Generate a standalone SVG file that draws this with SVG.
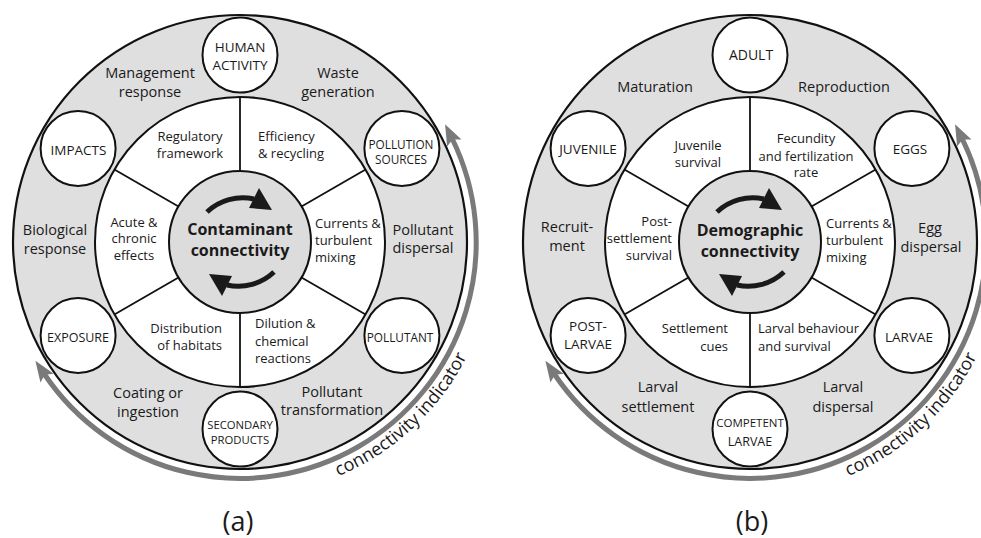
<svg xmlns="http://www.w3.org/2000/svg" width="981" height="538" viewBox="0 0 981 538">
<defs>
<style>
text{font-family:"Open Sans","Liberation Sans",sans-serif;fill:#1a1a1a}
.ring{font-size:14.5px;text-anchor:middle}
.sec{font-size:13px}
.mid{text-anchor:middle}
.end{text-anchor:end}
.cap{text-anchor:middle}
.ctr{font-size:16px;font-weight:bold;text-anchor:middle}
.lab{font-size:27px;text-anchor:middle}
.curv{font-size:18px}
.outer{fill:#dfdfdf;stroke:#111;stroke-width:2.2}
.middle{fill:#fff;stroke:#111;stroke-width:2}
.inner{fill:#dcdcdc;stroke:#111;stroke-width:2}
.node{fill:#fff;stroke:#111;stroke-width:2}
.spoke{stroke:#111;stroke-width:1.8;fill:none}
.garc{fill:none;stroke:#7a7a7a;stroke-width:5;marker-start:url(#gh);marker-end:url(#gh)}
.barc{fill:none;stroke:#1a1a1a;stroke-width:5}
.bhead{fill:#1a1a1a}
</style>
<marker id="gh" viewBox="-6 -10 24 20" markerWidth="24" markerHeight="20" refX="0" refY="0" orient="auto-start-reverse" markerUnits="userSpaceOnUse">
<path d="M16,0 L-5,-8 L-1,0 L-5,8 Z" fill="#7a7a7a"/>
</marker>
<path id="cpa" d="M318.5,483.6 A254,254 0 0 0 475.5,337.1"/>
<path id="cpb" d="M828.5,483.6 A254,254 0 0 0 985.5,337.1"/>
</defs>

<!-- ===== Diagram (a) ===== -->
<g id="diagram-a">
<g id="a-base">
<circle class="outer" cx="240" cy="242" r="227"/>
<circle class="middle" cx="240" cy="242" r="145"/>
</g>
<g id="a-connectors">
<line class="spoke" x1="240" y1="171" x2="240" y2="97"/>
<line class="spoke" x1="301.5" y1="206.5" x2="365.6" y2="169.5"/>
<line class="spoke" x1="301.5" y1="277.5" x2="365.6" y2="314.5"/>
<line class="spoke" x1="240" y1="313" x2="240" y2="387"/>
<line class="spoke" x1="178.5" y1="277.5" x2="114.4" y2="314.5"/>
<line class="spoke" x1="178.5" y1="206.5" x2="114.4" y2="169.5"/>
<path class="garc" d="M44.3,374 A236,236 0 0 0 452.1,138.5"/>
</g>
<g id="a-center">
<circle class="inner" cx="240" cy="242" r="71"/>
<path class="barc" d="M207,212 A52,52 0 0 1 254,199"/>
<polygon class="bhead" points="259,188 272,210 249,208"/>
<g transform="rotate(180 240.5 242)">
<path class="barc" d="M207,212 A52,52 0 0 1 254,199"/>
<polygon class="bhead" points="259,188 272,210 249,208"/>
</g>
<text class="ctr" x="240" y="235">Contaminant</text>
<text class="ctr" x="240" y="256">connectivity</text>
</g>
<g id="a-human-activity"><circle class="node" cx="240" cy="55" r="37.5"/><text class="cap" font-size="13.5" x="240" y="52">HUMAN</text><text class="cap" font-size="13.5" x="240" y="70">ACTIVITY</text></g>
<g id="a-pollution-sources"><circle class="node" cx="401.9" cy="148.5" r="37.5"/><text class="cap" font-size="11.8" x="401" y="149">POLLUTION</text><text class="cap" font-size="11.8" x="401" y="164">SOURCES</text></g>
<g id="a-pollutant"><circle class="node" cx="401.9" cy="335.5" r="37.5"/><text class="cap" font-size="11.8" x="400" y="342">POLLUTANT</text></g>
<g id="a-secondary-products"><circle class="node" cx="240" cy="429" r="37.5"/><text class="cap" font-size="11.3" x="240" y="429">SECONDARY</text><text class="cap" font-size="11.3" x="240" y="444">PRODUCTS</text></g>
<g id="a-exposure"><circle class="node" cx="78.1" cy="335.5" r="37.5"/><text class="cap" font-size="12.5" x="78" y="342">EXPOSURE</text></g>
<g id="a-impacts"><circle class="node" cx="78.1" cy="148.5" r="37.5"/><text class="cap" font-size="13.5" x="78.5" y="155">IMPACTS</text></g>

<g id="a-ring-labels">
<text class="ring" x="150" y="78">Management</text><text class="ring" x="150" y="97">response</text>
<text class="ring" x="338" y="78">Waste</text><text class="ring" x="338" y="97">generation</text>
<text class="ring" x="423" y="235">Pollutant</text><text class="ring" x="423" y="253">dispersal</text>
<text class="ring" x="332" y="397">Pollutant</text><text class="ring" x="332" y="415">transformation</text>
<text class="ring" x="148" y="398">Coating or</text><text class="ring" x="148" y="417">ingestion</text>
<text class="ring" x="55" y="235">Biological</text><text class="ring" x="55" y="254">response</text>
</g>
<g id="a-sector-labels">
<text class="sec mid" x="190" y="141">Regulatory</text><text class="sec mid" x="190" y="158">framework</text>
<text class="sec" x="258" y="141">Efficiency</text><text class="sec" x="258" y="158">&amp; recycling</text>
<text class="sec" x="315" y="228">Currents &amp;</text><text class="sec" x="315" y="245">turbulent</text><text class="sec" x="315" y="262">mixing</text>
<text class="sec" x="255" y="328">Dilution &amp;</text><text class="sec" x="255" y="346">chemical</text><text class="sec" x="255" y="363">reactions</text>
<text class="sec end" x="222" y="333">Distribution</text><text class="sec end" x="222" y="350">of habitats</text>
<text class="sec mid" x="134" y="227">Acute &amp;</text><text class="sec mid" x="134" y="243">chronic</text><text class="sec mid" x="134" y="260">effects</text>
</g>
<text class="curv"><textPath href="#cpa" startOffset="50%" text-anchor="middle">connectivity indicator</textPath></text>
<text class="lab" x="238" y="531">(a)</text>
</g>

<!-- ===== Diagram (b) ===== -->
<g id="diagram-b">
<g id="b-base">
<circle class="outer" cx="750" cy="242" r="227"/>
<circle class="middle" cx="750" cy="242" r="145"/>
</g>
<g id="b-connectors">
<line class="spoke" x1="750" y1="171" x2="750" y2="97"/>
<line class="spoke" x1="811.5" y1="206.5" x2="875.6" y2="169.5"/>
<line class="spoke" x1="811.5" y1="277.5" x2="875.6" y2="314.5"/>
<line class="spoke" x1="750" y1="313" x2="750" y2="387"/>
<line class="spoke" x1="688.5" y1="277.5" x2="624.4" y2="314.5"/>
<line class="spoke" x1="688.5" y1="206.5" x2="624.4" y2="169.5"/>
<path class="garc" d="M554.3,374 A236,236 0 0 0 962.1,138.5"/>
</g>
<g id="b-center">
<circle class="inner" cx="750" cy="242" r="71"/>
<g transform="translate(510 0)">
<path class="barc" d="M207,212 A52,52 0 0 1 254,199"/>
<polygon class="bhead" points="259,188 272,210 249,208"/>
<g transform="rotate(180 240.5 242)">
<path class="barc" d="M207,212 A52,52 0 0 1 254,199"/>
<polygon class="bhead" points="259,188 272,210 249,208"/>
</g>
</g>
<text class="ctr" x="750" y="236">Demographic</text>
<text class="ctr" x="750" y="257">connectivity</text>
</g>
<g id="b-adult"><circle class="node" cx="750" cy="55" r="37.5"/><text class="cap" font-size="14" x="751" y="60">ADULT</text></g>
<g id="b-eggs"><circle class="node" cx="911.9" cy="148.5" r="37.5"/><text class="cap" font-size="13.5" x="910" y="154">EGGS</text></g>
<g id="b-larvae"><circle class="node" cx="911.9" cy="335.5" r="37.5"/><text class="cap" font-size="13.5" x="909" y="342">LARVAE</text></g>
<g id="b-competent-larvae"><circle class="node" cx="750" cy="429" r="37.5"/><text class="cap" font-size="11.5" x="750" y="427">COMPETENT</text><text class="cap" font-size="12.5" x="750" y="446">LARVAE</text></g>
<g id="b-post-larvae"><circle class="node" cx="588.1" cy="335.5" r="37.5"/><text class="cap" font-size="13.5" x="588" y="331">POST-</text><text class="cap" font-size="13.5" x="588" y="349">LARVAE</text></g>
<g id="b-juvenile"><circle class="node" cx="588.1" cy="148.5" r="37.5"/><text class="cap" font-size="13.5" x="588" y="154">JUVENILE</text></g>

<g id="b-ring-labels">
<text class="ring" x="655" y="92">Maturation</text>
<text class="ring" x="844" y="92">Reproduction</text>
<text class="ring" x="930" y="233">Egg</text><text class="ring" x="931" y="252">dispersal</text>
<text class="ring" x="843" y="392">Larval</text><text class="ring" x="843" y="412">dispersal</text>
<text class="ring" x="658" y="392">Larval</text><text class="ring" x="658" y="412">settlement</text>
<text class="ring" x="567" y="232">Recruit-</text><text class="ring" x="567" y="251">ment</text>
</g>
<g id="b-sector-labels">
<text class="sec mid" x="698" y="150">Juvenile</text><text class="sec mid" x="698" y="167">survival</text>
<text class="sec mid" x="806" y="143">Fecundity</text><text class="sec mid" x="806" y="161">and fertilization</text><text class="sec mid" x="806" y="177">rate</text>
<text class="sec" x="826" y="228">Currents &amp;</text><text class="sec" x="826" y="245">turbulent</text><text class="sec" x="826" y="262">mixing</text>
<text class="sec" x="758" y="333">Larval behaviour</text><text class="sec" x="758" y="351">and survival</text>
<text class="sec end" x="728" y="333">Settlement</text><text class="sec end" x="728" y="351">cues</text>
<text class="sec end" x="672" y="226">Post-</text><text class="sec end" x="672" y="243">settlement</text><text class="sec end" x="672" y="260">survival</text>
</g>
<text class="curv"><textPath href="#cpb" startOffset="50%" text-anchor="middle">connectivity indicator</textPath></text>
<text class="lab" x="752" y="531">(b)</text>
</g>
</svg>
